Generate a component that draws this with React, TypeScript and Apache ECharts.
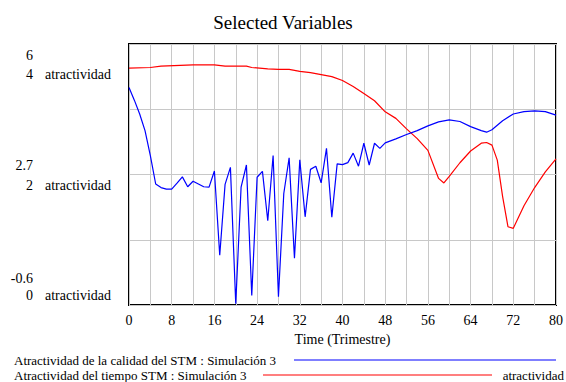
import React, { useEffect, useRef } from "react";
import * as echarts from "echarts";

// Time axis
const xTicks = [0, 8, 16, 24, 32, 40, 48, 56, 64, 72, 80];

// Blue series: Atractividad de la calidad del STM (right scale -0.6 .. 6)
const blueTimes = [
  0, 1, 2, 3, 4, 5, 6, 7, 8, 9, 10, 11, 12, 13, 14, 15, 16, 17, 18, 19, 20,
  21, 22, 23, 24, 25, 26, 27, 28, 29, 30, 31, 32, 33, 34, 35, 36, 37, 38, 39,
  40, 41, 42, 43, 44, 45, 46, 47, 48, 50, 52, 54, 56, 58, 60, 62, 64, 66, 67,
  68, 70, 72, 74, 76, 78, 80,
];
const blueValues = [
  4.9, 4.58, 4.23, 3.81, 3.18, 2.46, 2.37, 2.33, 2.33, 2.48, 2.64, 2.39, 2.53,
  2.46, 2.39, 2.38, 2.79, 0.66, 2.45, 2.88, -0.57, 2.38, 2.94, -0.36, 2.63,
  2.78, 1.53, 3.18, -0.39, 2.22, 3.12, 0.58, 3.07, 1.63, 2.83, 2.91, 2.49,
  3.36, 1.62, 2.97, 2.95, 3.0, 3.24, 2.91, 3.49, 2.94, 3.49, 3.36, 3.5, 3.6,
  3.71, 3.81, 3.93, 4.03, 4.08, 4.04, 3.91, 3.81, 3.77, 3.83, 4.06, 4.23,
  4.29, 4.31, 4.29, 4.2,
];

// Red series: Atractividad del tiempo STM (left scale 0 .. 4)
const redTimes = [
  0, 4, 6, 12, 16, 18, 22, 23, 26, 28, 30, 32, 34, 36, 38, 40, 42, 44, 46, 48,
  50, 52, 54, 56, 58, 59, 60, 62, 64, 66, 67, 68, 69, 70, 71, 72, 74, 76, 78,
  80,
];
const redValues = [
  3.63, 3.64, 3.66, 3.68, 3.68, 3.66, 3.66, 3.64, 3.62, 3.61, 3.61, 3.58,
  3.56, 3.53, 3.5, 3.44, 3.35, 3.24, 3.13, 2.96, 2.86, 2.7, 2.55, 2.37, 1.94,
  1.87, 1.97, 2.18, 2.36, 2.48, 2.49, 2.45, 2.22, 1.66, 1.2, 1.175, 1.52, 1.8,
  2.04, 2.24,
];

const blueTickLabels = ["6", "2.7", "-0.6"];
const redTickLabels = ["4", "2", "0"];
const unitLabel = "atractividad";
const blueName = "Atractividad de la calidad del STM : Simulación 3";
const redName = "Atractividad del tiempo STM : Simulación 3";

const FONT = "Liberation Serif";

export default function App() {
  const ref = useRef<HTMLDivElement>(null);
  useEffect(() => {
    if (!ref.current) return;
    const chart = echarts.init(ref.current, null, { renderer: "svg" });
    const txt = (
      text: string,
      x: number,
      y: number,
      align: string,
      size = 14
    ) => ({
      type: "text",
      x,
      y,
      silent: true,
      style: {
        text,
        align,
        verticalAlign: "middle",
        fontFamily: FONT,
        fontSize: size,
        fill: "#000",
      },
    });
    const blueY = [55, 165, 278];
    const redY = [74, 185, 295];
    const graphics: any[] = [];
    blueTickLabels.forEach((l, i) => graphics.push(txt(l, 33, blueY[i], "right")));
    redTickLabels.forEach((l, i) => {
      graphics.push(txt(l, 33, redY[i], "right"));
      graphics.push(txt(unitLabel, 45, redY[i], "left"));
    });
    graphics.push(txt(blueName, 14, 360, "left", 13));
    graphics.push({
      type: "line",
      silent: true,
      shape: { x1: 294, y1: 360, x2: 556, y2: 360 },
      style: { stroke: "#0000ff", lineWidth: 1.2 },
    });
    graphics.push(txt(redName, 14, 375, "left", 13));
    graphics.push({
      type: "line",
      silent: true,
      shape: { x1: 263, y1: 375, x2: 492, y2: 375 },
      style: { stroke: "#ff0000", lineWidth: 1.2 },
    });
    graphics.push(txt(unitLabel, 564, 375, "right", 13));

    chart.setOption({
      animation: false,
      backgroundColor: "#fff",
      title: {
        text: "Selected Variables",
        left: "center",
        top: 8,
        textStyle: {
          fontFamily: FONT,
          fontSize: 19,
          fontWeight: "normal",
          color: "#000",
        },
      },
      grid: {
        left: 129,
        right: 8,
        top: 44,
        bottom: 77,
        show: true,
        borderColor: "#000",
        borderWidth: 2,
        backgroundColor: "transparent",
      },
      xAxis: {
        type: "value",
        min: 0,
        max: 80,
        interval: 4,
        name: "Time (Trimestre)",
        nameLocation: "middle",
        nameGap: 27,
        nameTextStyle: { fontFamily: FONT, fontSize: 14, color: "#000" },
        axisLine: { show: false },
        axisTick: { show: false },
        axisLabel: {
          fontFamily: FONT,
          fontSize: 14,
          color: "#000",
          margin: 8,
          formatter: (v: number) => (xTicks.includes(v) ? String(v) : ""),
        },
        splitLine: { show: true, lineStyle: { color: "#c8c8c8", width: 1 } },
      },
      yAxis: [
        {
          type: "value",
          min: 0,
          max: 4,
          interval: 1,
          axisLine: { show: false },
          axisTick: { show: false },
          axisLabel: { show: false },
          splitLine: { show: true, lineStyle: { color: "#c8c8c8", width: 1 } },
        },
        {
          type: "value",
          min: -0.6,
          max: 6,
          show: false,
          splitLine: { show: false },
        },
      ],
      series: [
        {
          type: "line",
          name: redName,
          yAxisIndex: 0,
          data: redTimes.map((t, i) => [t, redValues[i]]),
          showSymbol: false,
          lineStyle: { color: "#ff0000", width: 1.2 },
          itemStyle: { color: "#ff0000" },
          z: 3,
        },
        {
          type: "line",
          name: blueName,
          yAxisIndex: 1,
          data: blueTimes.map((t, i) => [t, blueValues[i]]),
          showSymbol: false,
          lineStyle: { color: "#0000ff", width: 1.2 },
          itemStyle: { color: "#0000ff" },
          z: 4,
        },
      ],
      graphic: graphics,
    });
    return () => chart.dispose();
  }, []);
  return <div ref={ref} style={{ width: 566, height: 382, position: "absolute", left: 0, top: 0 }} />;
}
